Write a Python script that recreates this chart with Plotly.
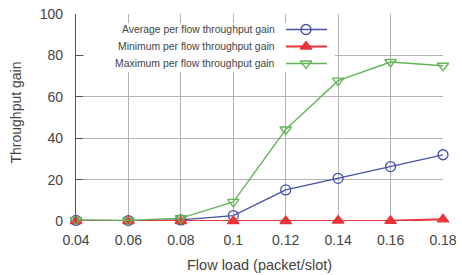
import plotly.graph_objects as go

flow_load = [0.04, 0.06, 0.08, 0.10, 0.12, 0.14, 0.16, 0.18]
avg_gain = [0.3, 0.2, 0.5, 2.6, 15.0, 20.6, 26.3, 32.0]
min_gain = [0.0, 0.0, 0.0, 0.0, 0.0, 0.2, 0.1, 0.8]
max_gain = [0.5, 0.3, 1.4, 9.2, 44.2, 67.8, 76.8, 75.0]
series_names = ["Average per flow throughput gain",
                "Minimum per flow throughput gain",
                "Maximum per flow throughput gain"]
x_ticks = [0.04, 0.06, 0.08, 0.10, 0.12, 0.14, 0.16, 0.18]
x_tick_labels = ["0.04", "0.06", "0.08", "0.1", "0.12", "0.14", "0.16", "0.18"]
y_ticks = [0, 20, 40, 60, 80, 100]
x_title = "Flow load (packet/slot)"
y_title = "Throughput gain"

BLUE = "#4451a6"
RED = "#e8343a"
GREEN = "#62b556"
TEXT = "#444444"
FONT = "Liberation Sans"

W, H = 462, 275
L, R, T, B = 76, 19, 14, 54
XMIN, XMAX, YMIN, YMAX = 0.04, 0.18, 0, 100
pw, ph = W - L - R, H - T - B

def px2x(px):
    return XMIN + (px - L) / pw * (XMAX - XMIN)

def py2y(py):
    return YMIN + (H - B - py) / ph * (YMAX - YMIN)

styles = [
    dict(color=BLUE, symbol="circle-open", lw=1.3),
    dict(color=RED, symbol="triangle-up", lw=2.0),
    dict(color=GREEN, symbol="triangle-down-open", lw=1.3),
]
series = [avg_gain, min_gain, max_gain]

fig = go.Figure()
for name, vals, st in zip(series_names, series, styles):
    fig.add_trace(go.Scatter(
        x=flow_load, y=vals, mode="lines+markers", name=name,
        line=dict(color=st["color"], width=st["lw"]),
        marker=dict(symbol=st["symbol"], size=10, color=st["color"],
                    line=dict(color=st["color"], width=1.3)),
        showlegend=False, cliponaxis=False))

# custom key (text left, sample right) like the original
rows_py = [29.5, 46.5, 63.5]
for name, st, py in zip(series_names, styles, rows_py):
    yy = py2y(py)
    fig.add_trace(go.Scatter(
        x=[px2x(286), px2x(327)], y=[yy, yy], mode="lines",
        line=dict(color=st["color"], width=st["lw"]),
        showlegend=False, hoverinfo="skip"))
    fig.add_trace(go.Scatter(
        x=[px2x(306)], y=[yy], mode="markers",
        marker=dict(symbol=st["symbol"], size=10, color=st["color"],
                    line=dict(color=st["color"], width=1.3)),
        showlegend=False, hoverinfo="skip"))
    fig.add_annotation(x=px2x(277), y=yy, xref="x", yref="y", text=name,
                       showarrow=False, xanchor="right", yanchor="middle",
                       font=dict(family=FONT, size=10.4, color=TEXT))

fig.add_shape(type="rect", xref="x", yref="y",
              x0=px2x(84), x1=px2x(335), y0=py2y(23), y1=py2y(72),
              fillcolor="white", line=dict(width=0), layer="between")

# axis titles
fig.add_annotation(x=0.5, y=0, xref="paper", yref="paper", text=x_title,
                   showarrow=False, xanchor="center", yanchor="middle",
                   yshift=-44, font=dict(family=FONT, size=14.5, color=TEXT))
fig.add_annotation(x=0, y=(H - B - 112.5) / ph, xref="paper", yref="paper",
                   text=y_title, textangle=-90, showarrow=False,
                   xanchor="center", yanchor="middle", xshift=-61,
                   font=dict(family=FONT, size=14, color=TEXT))

fig.update_layout(
    width=W, height=H,
    margin=dict(l=L, r=R, t=T, b=B, pad=0),
    paper_bgcolor="white", plot_bgcolor="white",
    font=dict(family=FONT, size=14, color=TEXT),
)
fig.update_xaxes(
    range=[XMIN, XMAX], tickvals=x_ticks, ticktext=x_tick_labels,
    showgrid=True, gridcolor="#b4b4b4", gridwidth=1, zeroline=False,
    showline=False, ticks="", ticklabelstandoff=9, automargin=False,
    tickfont=dict(family=FONT, size=14, color=TEXT),
)
fig.update_yaxes(
    range=[YMIN, YMAX], tickvals=y_ticks,
    showgrid=True, gridcolor="#b4b4b4", gridwidth=1, zeroline=False,
    showline=True, linecolor="#555555", linewidth=1.2,
    ticks="inside", ticklen=7, tickcolor="#555555", tickwidth=1.2,
    ticklabelstandoff=9, automargin=False,
    tickfont=dict(family=FONT, size=14, color=TEXT),
)

fig.write_html("out.html",
               config={"displayModeBar": False, "staticPlot": True},
               post_script="document.body.style.margin='0';document.body.style.overflow='hidden';")
